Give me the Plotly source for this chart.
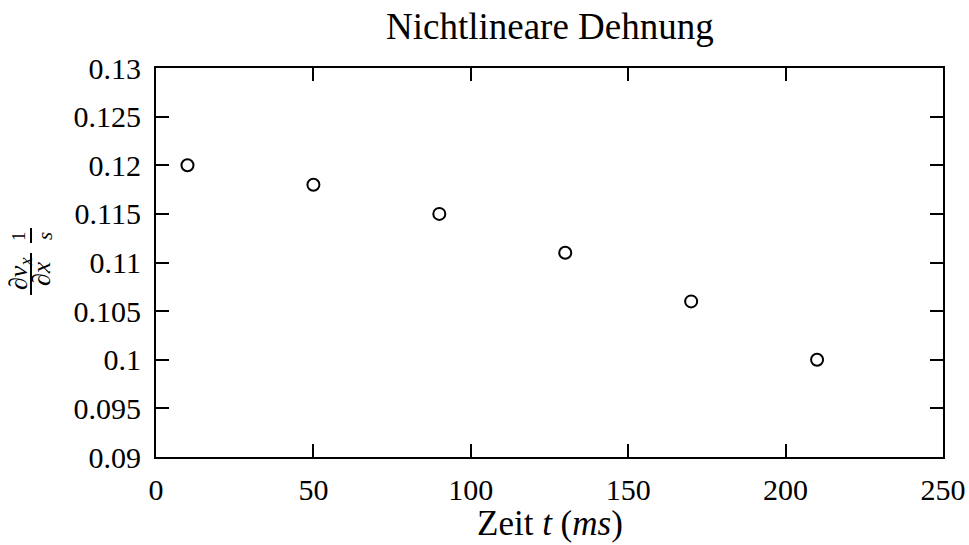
import plotly.graph_objects as go

# Measured strain rate over time
zeit_ms = [10, 50, 90, 130, 170, 210]
dehnrate = [0.120, 0.118, 0.115, 0.111, 0.106, 0.100]

x_ticks = [0, 50, 100, 150, 200, 250]
y_ticks = [0.09, 0.095, 0.1, 0.105, 0.11, 0.115, 0.12, 0.125, 0.13]
y_ticktext = ["0.09", "0.095", "0.1", "0.105", "0.11", "0.115", "0.12", "0.125", "0.13"]

W, H = 969, 545
L, R, T, B = 156, 26, 68, 88
PW, PH = W - L - R, H - T - B

FONT = "Liberation Serif"


def px(x):
    return (x - L) / PW


def py(y):
    return (H - B - y) / PH


fig = go.Figure()
fig.add_trace(go.Scatter(
    x=zeit_ms, y=dehnrate, mode="markers",
    marker=dict(symbol="circle-open", size=12, color="black", line=dict(width=2, color="black")),
    showlegend=False, cliponaxis=False,
))

axis_common = dict(
    showline=True, linecolor="black", linewidth=2, mirror="allticks",
    ticks="inside", ticklen=13, tickwidth=2, tickcolor="black",
    showgrid=False, zeroline=False,
    tickfont=dict(family=FONT, size=30, color="black"),
)

fig.update_xaxes(range=[0, 250], tickvals=x_ticks, ticklabelstandoff=5, **axis_common)
fig.update_yaxes(range=[0.09, 0.13], tickvals=y_ticks, ticktext=y_ticktext,
                 ticklabelstandoff=7, **axis_common)

annotations = [
    dict(text="Nichtlineare Dehnung", x=0.5, y=py(26), font=dict(size=37)),
    dict(text="Zeit <i>t</i> (<i>ms</i>)", x=0.5, y=py(523), font=dict(size=35)),
    # y-axis label: fraction ∂v_x/∂x followed by 1/s, rotated
    dict(text="∂<i>v</i><sub><i>x</i></sub>", x=px(20), y=py(274), textangle=-90, font=dict(size=26)),
    dict(text="∂<i>x</i>", x=px(41), y=py(274), textangle=-90, font=dict(size=26)),
    dict(text="1", x=px(18), y=py(236), textangle=-90, font=dict(size=19)),
    dict(text="<i>s</i>", x=px(45), y=py(236), textangle=-90, font=dict(size=21)),
]
for a in annotations:
    a.update(xref="paper", yref="paper", showarrow=False, xanchor="center", yanchor="middle")
    a["font"].update(family=FONT, color="black")

shapes = [
    dict(type="line", xref="paper", yref="paper", x0=px(31), x1=px(31), y0=py(253), y1=py(295),
         line=dict(color="black", width=2)),
    dict(type="line", xref="paper", yref="paper", x0=px(31), x1=px(31), y0=py(228), y1=py(243),
         line=dict(color="black", width=2)),
]

fig.update_layout(
    width=W, height=H, margin=dict(l=L, r=R, t=T, b=B, autoexpand=False),
    paper_bgcolor="white", plot_bgcolor="white",
    annotations=annotations, shapes=shapes,
    font=dict(family=FONT, color="black"),
)

fig.write_html("out.html")
